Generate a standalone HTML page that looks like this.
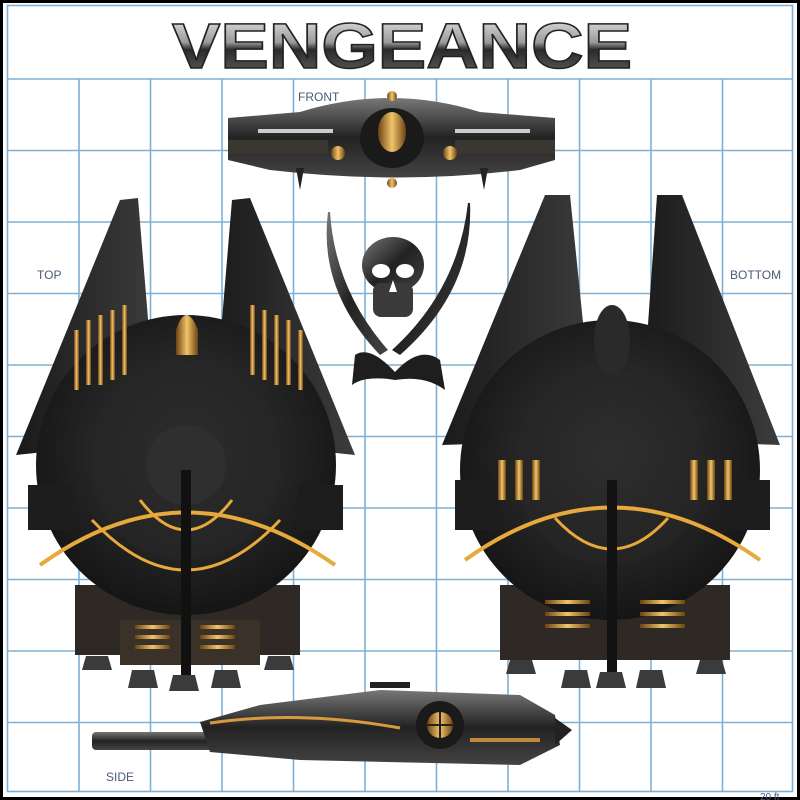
<!DOCTYPE html>
<html><head><meta charset="utf-8"><style>
html,body{margin:0;padding:0;background:#fff}
svg{display:block}
</style></head><body>
<svg width="800" height="800" viewBox="0 0 800 800" xmlns="http://www.w3.org/2000/svg">
<defs>
<linearGradient id="title" x1="0" y1="0" x2="0" y2="1">
<stop offset="0" stop-color="#f4f4f4"/><stop offset="0.45" stop-color="#9a9a9a"/><stop offset="0.55" stop-color="#2a2a2a"/><stop offset="1" stop-color="#6a6a6a"/></linearGradient>
<radialGradient id="disc" cx="0.5" cy="0.45" r="0.55"><stop offset="0" stop-color="#3a3a3a"/><stop offset="1" stop-color="#151515"/></radialGradient>
<linearGradient id="wing" x1="0" y1="0" x2="1" y2="0"><stop offset="0" stop-color="#1a1a1a"/><stop offset="1" stop-color="#3c3c3c"/></linearGradient>
<linearGradient id="gold" x1="0" y1="0" x2="1" y2="0"><stop offset="0" stop-color="#6b4313"/><stop offset="0.5" stop-color="#f2c46a"/><stop offset="1" stop-color="#6b4313"/></linearGradient>
<linearGradient id="metal" x1="0" y1="0" x2="0" y2="1"><stop offset="0" stop-color="#777"/><stop offset="0.5" stop-color="#222"/><stop offset="1" stop-color="#444"/></linearGradient>
<linearGradient id="blk" x1="0" y1="0" x2="1" y2="1"><stop offset="0" stop-color="#777"/><stop offset="0.5" stop-color="#222"/><stop offset="1" stop-color="#444"/></linearGradient>
</defs>
<rect x="0" y="0" width="800" height="800" fill="#000"/>
<rect x="3" y="3" width="794" height="794" fill="#fff"/>
<g stroke="#7fb0d3" stroke-width="1.6" fill="none">
<rect x="7.5" y="5.5" width="785" height="786"/>
<line x1="7.5" y1="79" x2="792.5" y2="79"/>
<line x1="7.5" y1="150.5" x2="792.5" y2="150.5"/>
<line x1="7.5" y1="222" x2="792.5" y2="222"/>
<line x1="7.5" y1="293.5" x2="792.5" y2="293.5"/>
<line x1="7.5" y1="365" x2="792.5" y2="365"/>
<line x1="7.5" y1="436.5" x2="792.5" y2="436.5"/>
<line x1="7.5" y1="508" x2="792.5" y2="508"/>
<line x1="7.5" y1="579.5" x2="792.5" y2="579.5"/>
<line x1="7.5" y1="651" x2="792.5" y2="651"/>
<line x1="7.5" y1="722.5" x2="792.5" y2="722.5"/>
<line x1="79" y1="79" x2="79" y2="791"/>
<line x1="150.5" y1="79" x2="150.5" y2="791"/>
<line x1="222" y1="79" x2="222" y2="791"/>
<line x1="293.5" y1="79" x2="293.5" y2="791"/>
<line x1="365" y1="79" x2="365" y2="791"/>
<line x1="436.5" y1="79" x2="436.5" y2="791"/>
<line x1="508" y1="79" x2="508" y2="791"/>
<line x1="579.5" y1="79" x2="579.5" y2="791"/>
<line x1="651" y1="79" x2="651" y2="791"/>
<line x1="722.5" y1="79" x2="722.5" y2="791"/>
</g>
<text x="402" y="68" text-anchor="middle" font-family="Liberation Sans, sans-serif" font-weight="bold" font-size="64" fill="url(#title)" stroke="#222" stroke-width="1.5" textLength="460" lengthAdjust="spacingAndGlyphs">VENGEANCE</text>
<g font-family="Liberation Sans, sans-serif" font-size="12" fill="#4a5a78">
<text x="298" y="101">FRONT</text>
<text x="37" y="279">TOP</text>
<text x="730" y="279">BOTTOM</text>
<text x="106" y="781">SIDE</text>
<text x="760" y="800" font-size="10">20 ft</text>
</g>

<!-- FRONT view -->
<g>
<path d="M228 118 L300 112 Q390 84 480 112 L555 118 L555 160 L520 170 Q400 185 270 170 L228 160 Z" fill="url(#metal)"/>
<rect x="228" y="140" width="100" height="14" fill="#3a3630"/>
<rect x="455" y="140" width="100" height="14" fill="#3a3630"/>
<rect x="258" y="129" width="75" height="4" fill="#ccc"/>
<rect x="455" y="129" width="75" height="4" fill="#ccc"/>
<ellipse cx="392" cy="138" rx="32" ry="30" fill="#1a1a1a"/>
<ellipse cx="392" cy="132" rx="14" ry="20" fill="url(#gold)"/>
<circle cx="338" cy="153" r="7" fill="url(#gold)"/>
<circle cx="450" cy="153" r="7" fill="url(#gold)"/>
<circle cx="392" cy="96" r="5" fill="url(#gold)"/>
<circle cx="392" cy="183" r="5" fill="url(#gold)"/>
<path d="M296 168 l4 22 l4 -22z M480 168 l4 22 l4 -22z" fill="#222"/>
</g>

<!-- skull & swords -->
<g fill="#1e1e1e">
<path d="M328 212 Q318 290 380 355 L388 350 Q335 290 330 212 Z" fill="url(#blk)"/>
<path d="M470 203 Q474 290 400 355 L392 350 Q458 290 468 203 Z" fill="url(#blk)"/>
<path d="M355 355 Q370 345 395 372 Q420 345 440 360 L445 390 Q425 375 395 380 Q365 375 352 385 Z"/>
<ellipse cx="393" cy="265" rx="31" ry="28" fill="url(#blk)"/>
<rect x="373" y="283" width="40" height="34" rx="8" fill="#3a3a3a"/>
<ellipse cx="381" cy="271" rx="9" ry="7" fill="#fff"/>
<ellipse cx="405" cy="271" rx="9" ry="7" fill="#fff"/>
<path d="M393 280 l-4 12 h8z" fill="#fff"/>
</g>

<!-- TOP view (left ship) -->
<g>
<path d="M120 200 L138 198 L158 440 L16 455 Z" fill="url(#wing)"/>
<path d="M232 200 L250 198 L355 455 L212 440 Z" fill="url(#wing)"/>
<rect x="75" y="585" width="225" height="70" fill="#2e2925"/>
<rect x="120" y="620" width="140" height="45" fill="#3a3128"/>
<circle cx="186" cy="465" r="150" fill="url(#disc)"/>
<circle cx="186" cy="465" r="95" fill="#262626" opacity="0.7"/>
<circle cx="186" cy="465" r="40" fill="#2f2f2f"/>
<rect x="28" y="485" width="45" height="45" fill="#1d1d1d"/>
<rect x="298" y="485" width="45" height="45" fill="#1d1d1d"/>
<path d="M40 565 Q186 460 335 565" stroke="#e7a83c" stroke-width="4" fill="none"/>
<path d="M92 520 Q186 620 280 520" stroke="#e7a83c" stroke-width="3" fill="none"/>
<path d="M140 500 Q186 560 232 500" stroke="#e7a83c" stroke-width="3" fill="none"/>
<rect x="181" y="470" width="10" height="220" fill="#111"/>
<path d="M176 330 Q186 300 198 330 L198 355 L176 355 Z" fill="url(#gold)"/>
<g fill="url(#gold)">
<rect x="74" y="330" width="5" height="60"/><rect x="86" y="320" width="5" height="65"/><rect x="98" y="315" width="5" height="70"/><rect x="110" y="310" width="5" height="70"/><rect x="122" y="305" width="5" height="70"/>
<rect x="250" y="305" width="5" height="70"/><rect x="262" y="310" width="5" height="70"/><rect x="274" y="315" width="5" height="70"/><rect x="286" y="320" width="5" height="65"/><rect x="298" y="330" width="5" height="60"/>
<rect x="135" y="625" width="35" height="4"/><rect x="135" y="635" width="35" height="4"/><rect x="135" y="645" width="35" height="4"/>
<rect x="200" y="625" width="35" height="4"/><rect x="200" y="635" width="35" height="4"/><rect x="200" y="645" width="35" height="4"/>
</g>
<g fill="#3b3b3b">
<path d="M86 656 h22 l4 14 h-30z"/><path d="M132 670 h22 l4 18 h-30z"/><path d="M173 675 h22 l4 16 h-30z"/><path d="M215 670 h22 l4 18 h-30z"/><path d="M268 656 h22 l4 14 h-30z"/>
</g>
</g>

<!-- BOTTOM view (right ship) -->
<g>
<path d="M545 195 L570 195 L595 440 L442 445 Z" fill="url(#wing)"/>
<path d="M657 195 L682 195 L780 445 L640 440 Z" fill="url(#wing)"/>
<rect x="500" y="585" width="230" height="75" fill="#2e2925"/>
<circle cx="610" cy="470" r="150" fill="url(#disc)"/>
<circle cx="610" cy="470" r="95" fill="#262626" opacity="0.6"/>
<ellipse cx="612" cy="340" rx="18" ry="35" fill="#2a2a2a"/>
<rect x="455" y="480" width="45" height="50" fill="#1d1d1d"/>
<rect x="725" y="480" width="45" height="50" fill="#1d1d1d"/>
<path d="M465 560 Q612 455 760 560" stroke="#e7a83c" stroke-width="4" fill="none"/>
<path d="M555 518 Q612 580 668 518" stroke="#e7a83c" stroke-width="3" fill="none"/>
<g fill="url(#gold)">
<rect x="498" y="460" width="8" height="40"/><rect x="515" y="460" width="8" height="40"/><rect x="532" y="460" width="8" height="40"/>
<rect x="690" y="460" width="8" height="40"/><rect x="707" y="460" width="8" height="40"/><rect x="724" y="460" width="8" height="40"/>
<rect x="545" y="600" width="45" height="4"/><rect x="545" y="612" width="45" height="4"/><rect x="545" y="624" width="45" height="4"/>
<rect x="640" y="600" width="45" height="4"/><rect x="640" y="612" width="45" height="4"/><rect x="640" y="624" width="45" height="4"/>
</g>
<rect x="607" y="480" width="10" height="200" fill="#111"/>
<g fill="#3b3b3b">
<path d="M510 660 h22 l4 14 h-30z"/><path d="M565 670 h22 l4 18 h-30z"/><path d="M600 672 h22 l4 16 h-30z"/><path d="M640 670 h22 l4 18 h-30z"/><path d="M700 660 h22 l4 14 h-30z"/>
</g>
</g>

<!-- SIDE view -->
<g>
<rect x="92" y="732" width="200" height="18" rx="4" fill="url(#metal)"/>
<path d="M200 722 L260 705 L380 690 L520 695 L555 715 L560 745 L520 765 L300 760 L210 752 Z" fill="url(#metal)"/>
<path d="M370 688 h40 v-6 h-40z" fill="#222"/>
<path d="M210 723 Q300 710 400 728" stroke="#d79a3c" stroke-width="3" fill="none"/>
<circle cx="440" cy="725" r="24" fill="#1a1a1a"/>
<circle cx="440" cy="725" r="13" fill="url(#gold)"/>
<path d="M427 725 h26 M440 712 v26" stroke="#222" stroke-width="2"/>
<rect x="470" y="738" width="70" height="4" fill="#c0883a"/>
<path d="M555 718 L572 730 L555 745 Z" fill="#222"/>
</g>
</svg>
</body></html>
